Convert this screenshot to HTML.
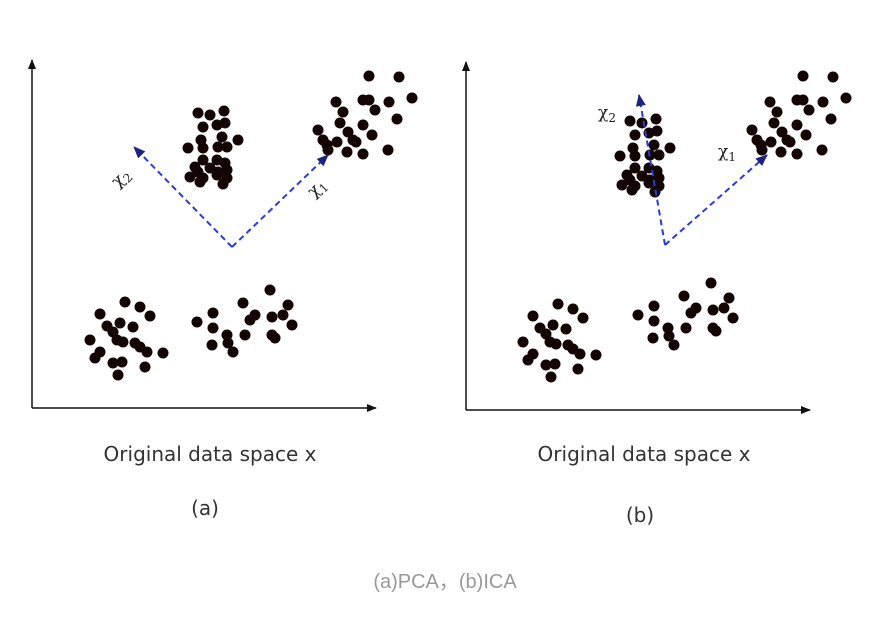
<!DOCTYPE html>
<html><head><meta charset="utf-8"><style>
body{margin:0;background:#fff;width:872px;height:618px;overflow:hidden}
svg{display:block}
</style></head><body>
<svg id="fig" width="872" height="618" viewBox="0 0 872 618">
<defs>
<marker id="ak" markerWidth="10" markerHeight="8" refX="9" refY="4" orient="auto" markerUnits="userSpaceOnUse"><path d="M0,0 L10,4 L0,8 Z" fill="#111"/></marker>
<marker id="ab" markerWidth="12" markerHeight="10" refX="11" refY="5" orient="auto" markerUnits="userSpaceOnUse"><path d="M0,0 L12,5 L0,10 Z" fill="#1a237e"/></marker>
</defs>
<g>
<line x1="32" y1="408" x2="32" y2="60" stroke="#111" stroke-width="1.5" marker-end="url(#ak)"/>
<line x1="32" y1="408" x2="376" y2="408" stroke="#111" stroke-width="1.5" marker-end="url(#ak)"/>
</g>
<g>
<line x1="466" y1="410" x2="466" y2="62" stroke="#111" stroke-width="1.5" marker-end="url(#ak)"/>
<line x1="466" y1="410" x2="810" y2="410" stroke="#111" stroke-width="1.5" marker-end="url(#ak)"/>
</g>
<g id="dots"></g>
<g>
<line x1="232" y1="247" x2="134" y2="147" stroke="#2b3bd6" stroke-width="2" stroke-dasharray="6,4" marker-end="url(#ab)"/>
<line x1="232" y1="247" x2="328" y2="155" stroke="#2b3bd6" stroke-width="2" stroke-dasharray="6,4" marker-end="url(#ab)"/>
</g>
<g>
<line x1="665" y1="245" x2="639" y2="95" stroke="#2b3bd6" stroke-width="2" stroke-dasharray="6,4" marker-end="url(#ab)"/>
<line x1="665" y1="245" x2="767" y2="155" stroke="#2b3bd6" stroke-width="2" stroke-dasharray="6,4" marker-end="url(#ab)"/>
</g>
<g font-family="'DejaVu Serif','Liberation Serif',serif" font-size="17" fill="#222">
<text transform="translate(118,188) rotate(-45)">χ<tspan font-size="12" dy="4">2</tspan></text>
<text transform="translate(314,198) rotate(-45)">χ<tspan font-size="12" dy="4">1</tspan></text>
<text x="598" y="118">χ<tspan font-size="12" dy="4">2</tspan></text>
<text x="718" y="157">χ<tspan font-size="12" dy="4">1</tspan></text>
</g>
<g font-family="'DejaVu Sans','Liberation Sans',sans-serif" font-size="20" fill="#333" text-anchor="middle">
<text x="210" y="461">Original data space x</text>
<text x="205" y="515">(a)</text>
<text x="644" y="461">Original data space x</text>
<text x="640" y="522">(b)</text>
</g>
<text x="445" y="588" text-anchor="middle" font-family="'Liberation Sans','Noto Sans CJK SC',sans-serif" font-size="20" fill="#999">(a)PCA，(b)ICA</text>
</svg>
<script>
const clusterTR=[[369,76],[399,77],[363,100],[369,100],[389,102],[412,98],[336,102],[343,112],[375,110],[397,119],[340,123],[363,125],[318,130],[348,132],[372,135],[323,140],[327,145],[337,142],[353,140],[328,150],[347,152],[363,154],[388,150],[356,142]];
const clusterTM=[[198,113],[210,115],[224,111],[203,127],[217,125],[225,123],[201,140],[222,137],[238,140],[188,148],[203,148],[218,147],[227,147],[203,160],[217,160],[225,163],[195,167],[210,168],[227,170],[190,177],[203,178],[217,175],[227,178],[200,182],[223,184],[198,172],[218,172]];
const clusterBL=[[100,314],[125,302],[140,307],[150,316],[107,326],[120,323],[133,327],[113,332],[90,340],[117,340],[123,342],[135,343],[140,347],[100,352],[95,358],[113,363],[122,362],[147,352],[163,353],[118,375],[145,367]];
const clusterBM=[[197,322],[213,313],[213,328],[212,345],[227,335],[228,343],[233,352],[243,303],[245,335],[250,320],[255,315],[270,290],[288,305],[272,317],[283,315],[292,325],[272,335],[275,338]];
const panelShifts=[[0,0,0,0,0,0,0,0],[434,0,432,8,433,2,441,-7]];
const g=document.getElementById('dots');
const NS='http://www.w3.org/2000/svg';
panelShifts.forEach((s,p)=>{
  [clusterTR,clusterTM,clusterBL,clusterBM].forEach((cl,ci)=>{
    cl.forEach(pt=>{
      const c=document.createElementNS(NS,'circle');
      c.setAttribute('cx',pt[0]+s[ci*2]);
      c.setAttribute('cy',pt[1]+s[ci*2+1]);
      c.setAttribute('r',5.5);
      c.setAttribute('fill','#140505');
      
      
      g.appendChild(c);
    });
  });
});
</script>
</body></html>
